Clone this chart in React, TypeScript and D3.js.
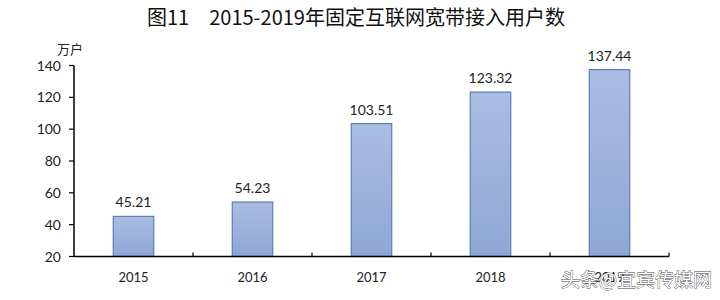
import React from "react";
import * as d3 from "d3";

const years = ["2015", "2016", "2017", "2018", "2019"];
const users = [45.21, 54.23, 103.51, 123.32, 137.44];
const yTicks = [20, 40, 60, 80, 100, 120, 140];

const W = 720;
const H = 300;
const left = 74;
const right = 669;
const top = 65.5;
const bottom = 256.5;

export default function App() {
  const x = d3.scaleBand<string>().domain(years).range([left, right]).paddingInner(0.66).paddingOuter(0.33);
  const xb = d3.scaleBand<string>().domain(years).range([left, right]);
  const y = d3.scaleLinear().domain([20, 140]).range([bottom, top]);
  const num = "Lato, 'Open Sans', sans-serif";
  const cjk = "'Noto Sans CJK SC', sans-serif";
  return (
    <svg width={W} height={H} style={{ position: "absolute", left: 0, top: 0, background: "#fff" }}>
      <defs>
        <linearGradient id="barg" x1="0" y1="0" x2="0" y2="1">
          <stop offset="0" stopColor="#a9bde2" />
          <stop offset="1" stopColor="#8ea7d6" />
        </linearGradient>
      </defs>
      <text x={356} y={25} textAnchor="middle" fontFamily={cjk} fontSize={20} fill="#111">
        图11　2015-2019年固定互联网宽带接入用户数
      </text>
      <text x={70} y={54} textAnchor="middle" fontFamily={cjk} fontSize={13} fill="#222">万户</text>
      {yTicks.map((t) => (
        <g key={t}>
          <line x1={left - 5} x2={left} y1={y(t)} y2={y(t)} stroke="#000" strokeWidth={1.2} />
          <text x={61} y={y(t) + 5} textAnchor="end" fontFamily={num} fontSize={14} fill="#222">{t}</text>
        </g>
      ))}
      {years.map((yr, i) => {
        const bx = x(yr)!;
        const bw = x.bandwidth();
        const v = users[i];
        return (
          <g key={yr}>
            <rect x={bx} y={y(v)} width={bw} height={bottom - y(v)} fill="url(#barg)" stroke="#5b7fb3" strokeWidth={1.2} />
            <text x={bx + bw / 2} y={y(v) - 9} textAnchor="middle" fontFamily={num} fontSize={14} fill="#222">{v.toFixed(2)}</text>
            <text x={xb(yr)! + xb.bandwidth() / 2} y={282} textAnchor="middle" fontFamily={num} fontSize={13} fill="#222">{yr}</text>
          </g>
        );
      })}
      {years.map((yr) => (
        <line key={"t" + yr} x1={xb(yr)! + xb.bandwidth()} x2={xb(yr)! + xb.bandwidth()} y1={bottom} y2={bottom - 4} stroke="#000" strokeWidth={1.2} />
      ))}
      <line x1={left} x2={left} y1={top} y2={bottom} stroke="#000" strokeWidth={1.5} />
      <line x1={left} x2={right} y1={bottom} y2={bottom} stroke="#000" strokeWidth={1.5} />
      <text x={561} y={287} fontFamily={cjk} fontSize={19} fill="#fff" stroke="#444" strokeWidth={0.8} paintOrder="stroke">头条@宜宾传媒网</text>
    </svg>
  );
}
